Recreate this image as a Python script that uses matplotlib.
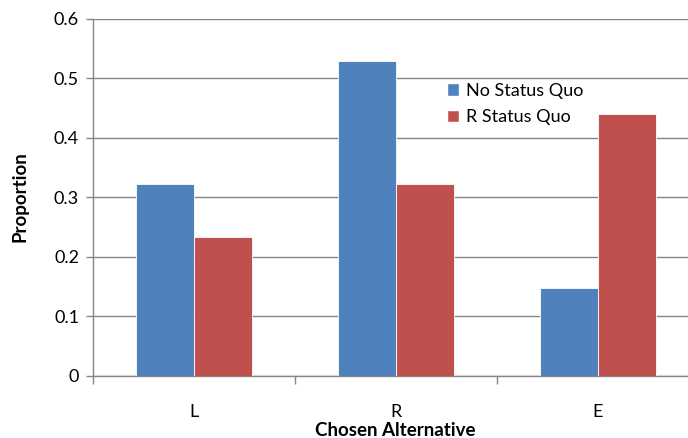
import numpy as np
import matplotlib.pyplot as plt
from matplotlib.patches import Patch

plt.rcParams["font.family"] = ["Lato", "DejaVu Sans"]

categories = ["L", "R", "E"]
no_status_quo = [0.323, 0.529, 0.147]
r_status_quo = [0.234, 0.323, 0.440]
series_names = ["No Status Quo", "R Status Quo"]

blue = "#4F81BD"
red = "#C0504D"
grid_col = "#868686"

fig = plt.figure(figsize=(6.88, 4.38), dpi=100)
ax = fig.add_axes([93 / 688, 62 / 438, 606 / 688, 357.5 / 438])

x = np.arange(len(categories))
w = 0.285
ax.bar(x - w / 2, no_status_quo, w, color=blue, edgecolor="white", linewidth=0.6, zorder=3)
ax.bar(x + w / 2, r_status_quo, w, color=red, edgecolor="white", linewidth=0.6, zorder=3)

ax.set_xlim(-0.5, 2.5)
ax.set_ylim(0, 0.6)
ax.set_yticks(np.arange(0, 0.61, 0.1))
ax.set_yticklabels(["0", "0.1", "0.2", "0.3", "0.4", "0.5", "0.6"])
ax.yaxis.grid(True, color=grid_col, linewidth=1.0, zorder=0)
ax.set_axisbelow(True)

# category labels in the middle, tick marks between categories
ax.set_xticks(x)
ax.set_xticklabels(categories)
ax.set_xticks([-0.5, 0.5, 1.5, 2.5], minor=True)
ax.tick_params(axis="x", which="major", length=0, pad=20, labelsize=13, colors="black")
ax.tick_params(axis="x", which="minor", length=6, color=grid_col, width=1)
ax.tick_params(axis="y", length=5, color=grid_col, width=1, labelsize=13, pad=5)

for s in ["top", "right"]:
    ax.spines[s].set_visible(False)
for s in ["left", "bottom"]:
    ax.spines[s].set_color(grid_col)
    ax.spines[s].set_linewidth(1.0)

fig.text(395 / 688, 1 - 430 / 438, "Chosen Alternative", ha="center", va="center",
         fontsize=13.5, fontweight="bold")
fig.text(20 / 688, 1 - 197 / 438, "Proportion", ha="center", va="center",
         rotation=90, fontsize=13.5, fontweight="bold")

handles = [Patch(facecolor=blue, edgecolor="white"), Patch(facecolor=red, edgecolor="white")]
fig.legend(handles, series_names, loc="upper left", bbox_to_anchor=(443 / 688, 1 - 79 / 438),
           frameon=False, fontsize=13, handlelength=0.7, handleheight=0.7,
           handletextpad=0.4, labelspacing=0.6, borderaxespad=0, borderpad=0.2)

fig.savefig("out.png", dpi=100)
